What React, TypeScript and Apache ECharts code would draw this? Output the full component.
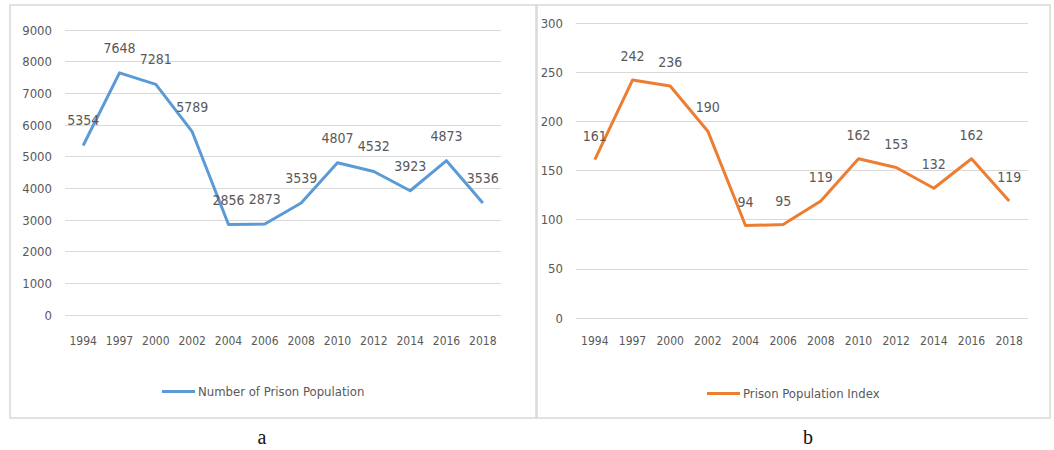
import React, { useEffect, useRef } from "react";
import * as echarts from "echarts";

// Survey years shared by both panels
const years = ["1994", "1997", "2000", "2002", "2004", "2006", "2008", "2010", "2012", "2014", "2016", "2018"];
// Panel a: number of prisoners
const prisonPopulation = [5354, 7648, 7281, 5789, 2856, 2873, 3539, 4807, 4532, 3923, 4873, 3536];
// Panel b: prison population index
const prisonIndex = [161, 242, 236, 190, 94, 95, 119, 162, 153, 132, 162, 119];

const seriesNames = ["Number of Prison Population", "Prison Population Index"];
const panelLetters = ["a", "b"];

const FONT = "'Liberation Sans Narrow', 'DejaVu Sans Condensed', 'Roboto Condensed', sans-serif";
const TEXT = "#595959";
const GRID = "#d9d9d9";
const BLUE = "#5b9bd5";
const ORANGE = "#ed7d31";

export default function App() {
  const ref = useRef<HTMLDivElement>(null);

  useEffect(() => {
    if (!ref.current) return;
    const chart = echarts.init(ref.current, undefined, { renderer: "svg" });

    const axisLabel = { color: TEXT, fontFamily: FONT, fontSize: 12 };
    const plain = (v: number) => String(v);

    const lineSeries = (idx: number, data: number[], color: string, distance: number) => ({
      name: seriesNames[idx],
      type: "line",
      xAxisIndex: idx,
      yAxisIndex: idx,
      data,
      color,
      showSymbol: true,
      symbol: "circle",
      symbolSize: 0,
      itemStyle: { color },
      lineStyle: { width: 3, color, join: "round" },
      label: {
        show: true,
        position: "top",
        distance,
        color: TEXT,
        fontFamily: FONT,
        fontSize: 14,
      },
    });

    const legendBase = {
      icon: "rect",
      itemWidth: 33,
      itemHeight: 3,
      itemGap: 0,
      textStyle: { color: TEXT, fontFamily: FONT, fontSize: 13, padding: [0, 0, 0, -2] },
    };

    chart.setOption({
      animation: false,
      backgroundColor: "#ffffff",
      graphic: [
        {
          type: "rect",
          shape: { x: 10, y: 5, width: 526, height: 413 },
          style: { fill: "none", stroke: GRID, lineWidth: 1.5 },
          silent: true,
        },
        {
          type: "rect",
          shape: { x: 537, y: 5, width: 513, height: 413 },
          style: { fill: "none", stroke: GRID, lineWidth: 1.5 },
          silent: true,
        },
        {
          type: "text",
          x: 262,
          y: 437,
          style: {
            text: panelLetters[0],
            font: "20px 'Liberation Serif', 'DejaVu Serif', serif",
            fill: "#111",
            align: "center",
            verticalAlign: "middle",
          },
        },
        {
          type: "text",
          x: 808,
          y: 437,
          style: {
            text: panelLetters[1],
            font: "20px 'Liberation Serif', 'DejaVu Serif', serif",
            fill: "#111",
            align: "center",
            verticalAlign: "middle",
          },
        },
      ],
      grid: [
        { left: 65, top: 30, width: 436, height: 285 },
        { left: 576, top: 23, width: 452, height: 295 },
      ],
      legend: [
        { ...legendBase, data: [seriesNames[0]], left: 157, top: 380 },
        { ...legendBase, data: [seriesNames[1]], left: 702, top: 382 },
      ],
      xAxis: [
        {
          type: "category",
          gridIndex: 0,
          data: years,
          axisLine: { show: false },
          axisTick: { show: false },
          axisLabel: { ...axisLabel, margin: 20, interval: 0 },
        },
        {
          type: "category",
          gridIndex: 1,
          data: years,
          axisLine: { show: false },
          axisTick: { show: false },
          axisLabel: { ...axisLabel, margin: 17, interval: 0 },
        },
      ],
      yAxis: [
        {
          type: "value",
          gridIndex: 0,
          min: 0,
          max: 9000,
          interval: 1000,
          axisLabel: { ...axisLabel, fontSize: 13, margin: 13, formatter: plain },
          splitLine: { lineStyle: { color: GRID, width: 1 } },
        },
        {
          type: "value",
          gridIndex: 1,
          min: 0,
          max: 300,
          interval: 50,
          axisLabel: { ...axisLabel, fontSize: 13, margin: 13, formatter: plain },
          splitLine: { lineStyle: { color: GRID, width: 1 } },
        },
      ],
      series: [
        lineSeries(0, prisonPopulation, BLUE, 18),
        lineSeries(1, prisonIndex, ORANGE, 17),
      ],
    });

    return () => chart.dispose();
  }, []);

  return (
    <div
      ref={ref}
      style={{ position: "fixed", left: 0, top: 0, width: 1054, height: 450 }}
    />
  );
}
